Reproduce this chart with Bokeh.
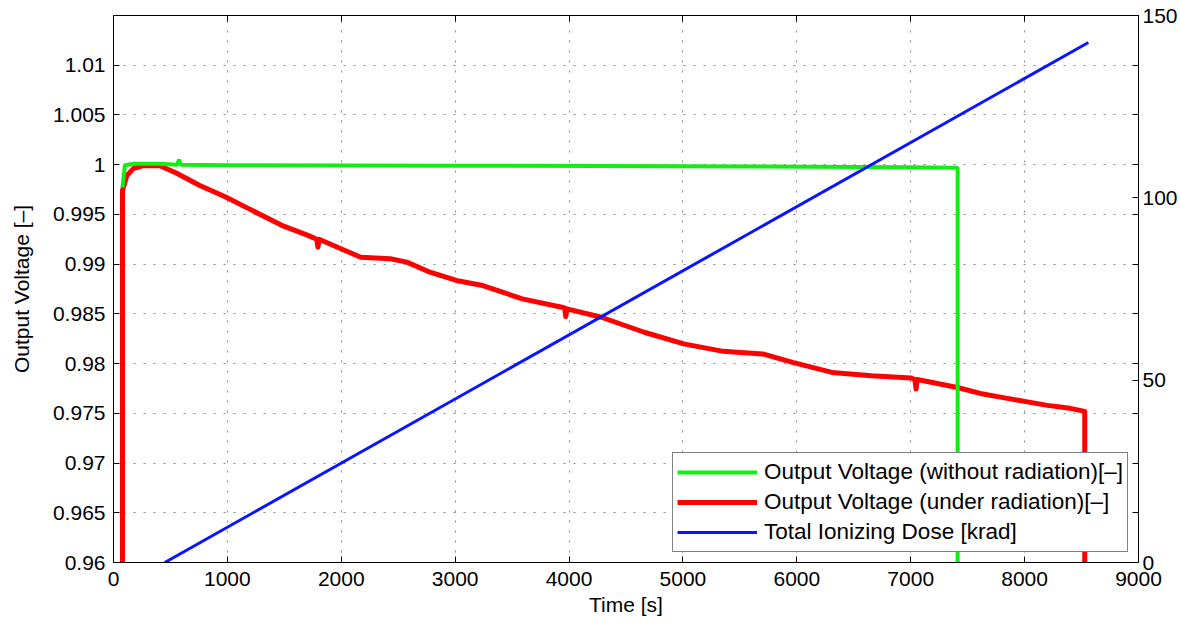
from bokeh.plotting import figure
from bokeh.models import (Range1d, LinearAxis, FixedTicker, CustomJSTickFormatter,
                          Legend, LegendItem)
from bokeh.embed import file_html
from bokeh.resources import INLINE

# ---------------- data ----------------
time_green = [79, 79, 100, 180, 400, 560, 575, 590, 1000, 3000, 5000, 7000, 7412, 7412]
volt_green = [0.9977, 0.9977, 0.99995, 1.0001, 1.0001, 1.0, 1.0005, 1.0, 0.99995,
              0.9999, 0.99985, 0.99975, 0.9997, 0.96]

time_red = [79, 79, 117, 174, 259, 406, 551, 753, 985, 1187, 1477, 1708, 1785, 1795,
            1805, 1997, 2171, 2431, 2576, 2779, 3010, 3242, 3589, 3937, 3961, 3971,
            3981, 4284, 4660, 5007, 5354, 5701, 5962, 6309, 6656, 7004, 7037, 7047,
            7057, 7409, 7611, 7800, 8000, 8200, 8400, 8528, 8528]
volt_red = [0.96, 0.9974, 0.9989, 0.9996, 0.9999, 0.9999, 0.99917, 0.99793, 0.99675,
            0.99558, 0.9939, 0.99289, 0.9925, 0.9917, 0.9925, 0.99155, 0.9907, 0.99054,
            0.9902, 0.98919, 0.98836, 0.98785, 0.98651, 0.98567, 0.9856, 0.98473,
            0.9855, 0.98466, 0.98315, 0.98198, 0.98123, 0.98097, 0.98012, 0.97911,
            0.97878, 0.97855, 0.9784, 0.97744, 0.9784, 0.9776, 0.977, 0.9766, 0.9762,
            0.9758, 0.9755, 0.9752, 0.96]

time_dose = [450, 8560]
dose_krad = [0, 142.6]

x_ticks = [0, 1000, 2000, 3000, 4000, 5000, 6000, 7000, 8000, 9000]
y_ticks = [0.96, 0.965, 0.97, 0.975, 0.98, 0.985, 0.99, 0.995, 1.0, 1.005, 1.01]
dose_ticks = [0, 50, 100, 150]

labels = ["Output Voltage (without radiation)[–]",
          "Output Voltage (under radiation)[–]",
          "Total Ionizing Dose [krad]"]

# ---------------- figure ----------------
FONT = "Liberation Sans"
FS = "21px"

p = figure(width=1180, height=625, output_backend="svg", toolbar_location=None,
           x_range=Range1d(0, 9000), y_range=Range1d(0.96, 1.015),
           min_border_left=113, min_border_top=15, min_border_right=0,
           min_border_bottom=63)
p.extra_y_ranges = {"dose": Range1d(0, 150)}
p.outline_line_color = "black"
p.outline_line_width = 1
p.background_fill_color = "white"
p.border_fill_color = "white"


def style_axis(ax, show_labels=True):
    ax.major_tick_in = 6
    ax.major_tick_out = 0
    ax.minor_tick_line_color = None
    ax.axis_line_color = "black"
    ax.major_tick_line_color = "black"
    ax.major_label_text_font = FONT
    ax.major_label_text_color = "black"
    ax.axis_label_text_font = FONT
    ax.axis_label_text_font_style = "normal"
    ax.axis_label_text_color = "black"
    ax.axis_label_text_font_size = FS
    if show_labels:
        ax.major_label_text_font_size = FS
    else:
        ax.major_label_text_font_size = "0px"
        ax.major_label_standoff = 0


# bottom x axis
xa = p.xaxis[0]
xa.ticker = FixedTicker(ticks=x_ticks)
style_axis(xa)
xa.axis_label = "Time [s]"
xa.major_label_standoff = 9
xa.axis_label_standoff = 4

# left y axis
ya = p.yaxis[0]
ya.ticker = FixedTicker(ticks=y_ticks)
ya.formatter = CustomJSTickFormatter(code="return String(Number(tick.toFixed(3)));")
style_axis(ya)
ya.axis_label = "Output Voltage [–]"
ya.major_label_standoff = 8
ya.axis_label_standoff = 17

# mirrored ticks on top (MATLAB box style)
top_ax = LinearAxis(ticker=FixedTicker(ticks=x_ticks))
style_axis(top_ax, show_labels=False)
p.add_layout(top_ax, "above")

# mirrored left ticks on the right side
mirror_r = LinearAxis(ticker=FixedTicker(ticks=y_ticks))
style_axis(mirror_r, show_labels=False)
p.add_layout(mirror_r, "right")

# right dose axis
dose_ax = LinearAxis(y_range_name="dose", ticker=FixedTicker(ticks=dose_ticks))
style_axis(dose_ax)
dose_ax.major_label_standoff = 4
p.add_layout(dose_ax, "right")

# grids
p.xgrid.ticker = FixedTicker(ticks=x_ticks)
p.ygrid.ticker = FixedTicker(ticks=y_ticks)
for g in (p.xgrid[0], p.ygrid[0]):
    g.grid_line_color = "#8a8a8a"
    g.grid_line_dash = "2 8"
    g.grid_line_width = 1

# lines
r_red = p.line(time_red, volt_red, line_color="#ff0000", line_width=5,
               line_join="round")
r_green = p.line(time_green, volt_green, line_color="#12ee12", line_width=4)
r_blue = p.line(time_dose, dose_krad, line_color="#0a14ff", line_width=3,
                y_range_name="dose")

legend = Legend(items=[LegendItem(label=labels[0], renderers=[r_green]),
                       LegendItem(label=labels[1], renderers=[r_red]),
                       LegendItem(label=labels[2], renderers=[r_blue])],
                location="bottom_right",
                label_text_font=FONT, label_text_font_size="22.5px",
                label_text_color="black",
                glyph_width=80, glyph_height=30, label_height=30,
                label_standoff=7, padding=4, spacing=0, margin=10,
                border_line_color="black", border_line_width=1,
                background_fill_color="white", background_fill_alpha=1.0)
p.add_layout(legend)

open("out.html", "w").write(file_html(p, INLINE))
